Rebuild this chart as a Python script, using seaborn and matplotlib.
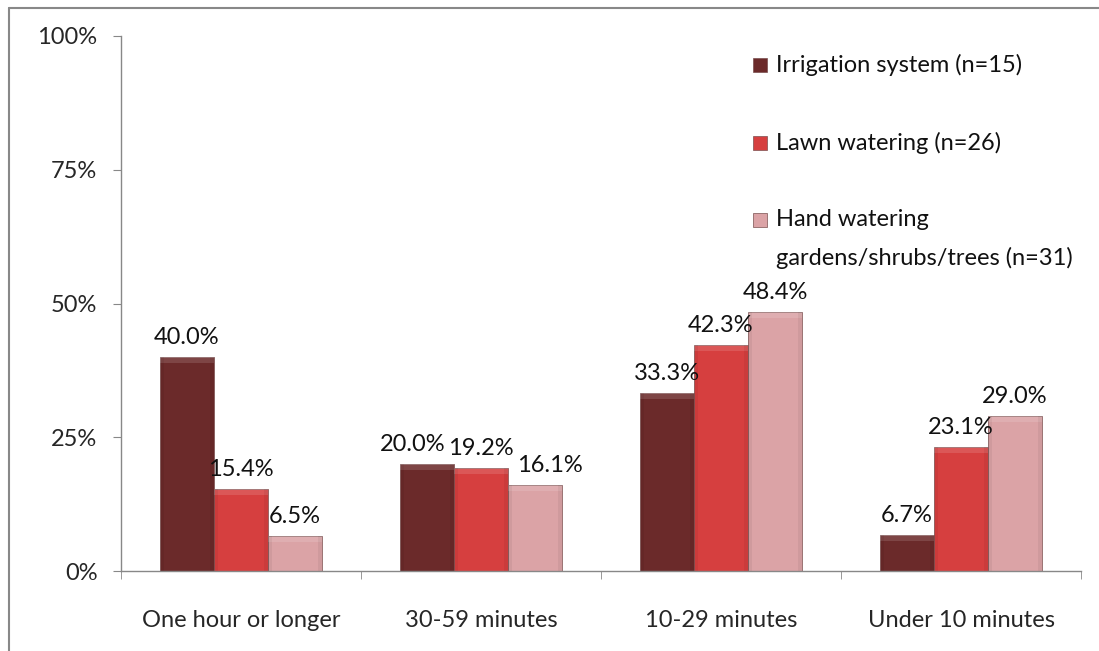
import matplotlib
matplotlib.use("Agg")
import matplotlib.pyplot as plt
from matplotlib.lines import Line2D
from matplotlib.patches import Rectangle
from matplotlib.ticker import FixedLocator
import seaborn as sns
import pandas as pd

categories = ["One hour or longer", "30-59 minutes", "10-29 minutes", "Under 10 minutes"]
series = ["Irrigation system (n=15)", "Lawn watering (n=26)", "Hand watering"]
series_extra = ["", "", "gardens/shrubs/trees (n=31)"]
irrigation = [40.0, 20.0, 33.3, 6.7]
lawn = [15.4, 19.2, 42.3, 23.1]
hand = [6.5, 16.1, 48.4, 29.0]
y_ticks = [0, 25, 50, 75, 100]
y_tick_labels = ["0%", "25%", "50%", "75%", "100%"]

colors = ["#6b2a2a", "#d63f3f", "#dba3a6"]
W, H = 1099, 651
FS = 17

rows = []
for s, vals in zip(series, [irrigation, lawn, hand]):
    for c, v in zip(categories, vals):
        rows.append({"category": c, "series": s, "value": v})
df = pd.DataFrame(rows)

sns.set_style("white")
plt.rcParams["font.family"] = ["Lato", "DejaVu Sans"]

fig = plt.figure(figsize=(W / 100, H / 100), dpi=100)
ax = fig.add_axes([121 / W, 1 - 571 / H, 960 / W, 535 / H])

sns.barplot(data=df, x="category", y="value", hue="series", palette=colors,
            saturation=1, width=0.675, gap=0, ax=ax, legend=False,
            edgecolor="#7a4f4f", linewidth=0.5)

ax.set_ylim(0, 100)
ax.set_xlim(-0.5, len(categories) - 0.5)

# soft bevel on every bar: faint light top band, faintly darker sides
px_y = 100 / 535
px_x = len(categories) / 960
for container in ax.containers:
    for bar in container:
        x0, w, h = bar.get_x(), bar.get_width(), bar.get_height()
        band = min(6 * px_y, h / 3)
        ax.add_patch(Rectangle((x0, h - band), w, band, facecolor="white",
                               alpha=0.13, linewidth=0, zorder=bar.get_zorder() + 0.1))
        side = 4 * px_x
        for sx in (x0, x0 + w - side):
            ax.add_patch(Rectangle((sx, 0), side, h, facecolor="black",
                                   alpha=0.05, linewidth=0, zorder=bar.get_zorder() + 0.1))

# value labels above each bar
labels_by_series = []
for container, vals in zip(ax.containers, [irrigation, lawn, hand]):
    texts = []
    for bar, v in zip(container, vals):
        t = ax.annotate(f"{v:.1f}%", (bar.get_x() + bar.get_width() / 2, bar.get_height()),
                        xytext=(0, 13), textcoords="offset pixels",
                        ha="center", va="baseline", fontsize=FS, color="#111111")
        texts.append(t)
    labels_by_series.append(texts)

ax.set_yticks(y_ticks)
ax.set_yticklabels(y_tick_labels, fontsize=FS)
ax.set_xlabel("")
ax.set_ylabel("")
ax.tick_params(axis="x", which="major", length=0, labelsize=FS, pad=28)
ax.xaxis.set_minor_locator(FixedLocator([i - 0.5 for i in range(len(categories) + 1)]))
ax.tick_params(axis="x", which="minor", length=6, color="#888888", direction="out", bottom=True)
ax.tick_params(axis="y", length=6, color="#888888", direction="out", left=True, pad=11)
for side in ["top", "right"]:
    ax.spines[side].set_visible(False)
for side in ["left", "bottom"]:
    ax.spines[side].set_color("#888888")
    ax.spines[side].set_linewidth(1.0)

# nudge value labels sideways where neighbours in a group collide
fig.canvas.draw()
renderer = fig.canvas.get_renderer()
for g in range(len(categories)):
    group = [labels_by_series[s][g] for s in range(len(series))]
    for i in range(len(group) - 1):
        a, b = group[i], group[i + 1]
        ba, bb = a.get_window_extent(renderer), b.get_window_extent(renderer)
        v_overlap = min(ba.y1, bb.y1) - max(ba.y0, bb.y0)
        h_overlap = ba.x1 - bb.x0
        if v_overlap > 0 and h_overlap > -2:
            shift = h_overlap + 3
            if i == 0:
                ox, oy = a.xyann
                a.xyann = (ox - shift, oy)
            else:
                ox, oy = b.xyann
                b.xyann = (ox + shift, oy)

# legend entries placed at the upper right of the plot
legend_rows = [65, 143, 220]
for color, label, extra, yrow in zip(colors, series, series_extra, legend_rows):
    fig.add_artist(Line2D([760 / W], [1 - yrow / H], transform=fig.transFigure,
                          marker="s", markersize=10, linestyle="none",
                          markerfacecolor=color, markeredgecolor="#7a4f4f",
                          markeredgewidth=0.5))
    fig.text(776 / W, 1 - yrow / H, label, fontsize=FS, ha="left", va="center",
             color="#111111")
    if extra:
        fig.text(776 / W, 1 - (yrow + 38) / H, extra, fontsize=FS, ha="left",
                 va="center", color="#111111")

# outer frame lines (left and top)
fig.add_artist(Line2D([8.5 / W, 8.5 / W], [0, 1 - 8 / H],
                      transform=fig.transFigure, color="#888888", linewidth=1.5))
fig.add_artist(Line2D([8.5 / W, 1], [1 - 8 / H, 1 - 8 / H],
                      transform=fig.transFigure, color="#888888", linewidth=1.5))

fig.savefig("out.png", dpi=100)
